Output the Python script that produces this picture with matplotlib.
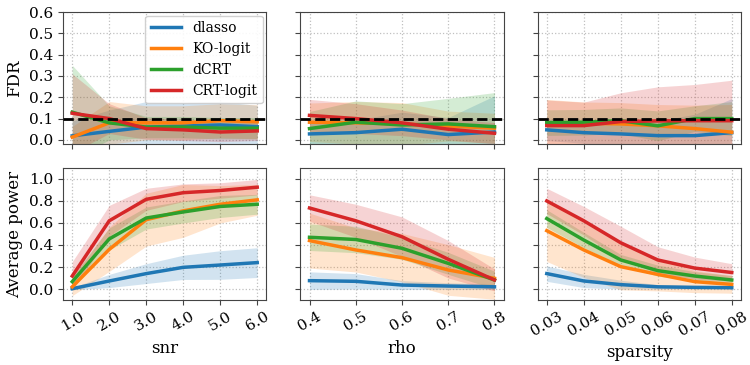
import numpy as np
import matplotlib
matplotlib.use("Agg")
import matplotlib.pyplot as plt

plt.rcParams['font.family'] = ['DejaVu Serif']

methods = ['dlasso', 'KO-logit', 'dCRT', 'CRT-logit']
colors = ['#1f77b4', '#ff7f0e', '#2ca02c', '#d62728']

snr = [1.0, 2.0, 3.0, 4.0, 5.0, 6.0]
rho = [0.4, 0.5, 0.6, 0.7, 0.8]
sparsity = [0.03, 0.04, 0.05, 0.06, 0.07, 0.08]

# FDR, rows in method order: dlasso, KO-logit, dCRT, CRT-logit
fdr_snr = [[0.019, 0.04, 0.06, 0.065, 0.07, 0.062],
           [0.013, 0.08, 0.08, 0.08, 0.09, 0.085],
           [0.13, 0.08, 0.06, 0.06, 0.055, 0.055],
           [0.125, 0.10, 0.053, 0.047, 0.037, 0.042]]
fdr_snr_std = [[0.07, 0.10, 0.12, 0.11, 0.11, 0.10],
               [0.05, 0.10, 0.08, 0.08, 0.08, 0.08],
               [0.22, 0.08, 0.05, 0.05, 0.05, 0.05],
               [0.185, 0.07, 0.05, 0.05, 0.045, 0.045]]

fdr_rho = [[0.028, 0.034, 0.05, 0.025, 0.037],
           [0.083, 0.08, 0.075, 0.065, 0.055],
           [0.053, 0.083, 0.07, 0.075, 0.062],
           [0.115, 0.10, 0.08, 0.05, 0.031]]
fdr_rho_std = [[0.06, 0.06, 0.08, 0.08, 0.17],
               [0.09, 0.10, 0.10, 0.07, 0.07],
               [0.08, 0.10, 0.10, 0.12, 0.16],
               [0.075, 0.07, 0.06, 0.05, 0.05]]

fdr_sp = [[0.047, 0.034, 0.028, 0.02, 0.02, 0.034],
          [0.08, 0.078, 0.075, 0.066, 0.053, 0.036],
          [0.081, 0.083, 0.09, 0.066, 0.10, 0.10],
          [0.067, 0.067, 0.086, 0.089, 0.09, 0.09]]
fdr_sp_std = [[0.05, 0.05, 0.07, 0.07, 0.10, 0.16],
              [0.11, 0.10, 0.10, 0.10, 0.11, 0.13],
              [0.06, 0.06, 0.06, 0.07, 0.06, 0.08],
              [0.12, 0.11, 0.135, 0.16, 0.17, 0.19]]

# Average power
pow_snr = [[0.003, 0.073, 0.14, 0.197, 0.218, 0.24],
           [0.02, 0.36, 0.63, 0.71, 0.77, 0.81],
           [0.067, 0.455, 0.645, 0.70, 0.75, 0.77],
           [0.118, 0.62, 0.815, 0.875, 0.895, 0.925]]
pow_snr_std = [[0.01, 0.06, 0.09, 0.11, 0.13, 0.135],
               [0.08, 0.20, 0.24, 0.24, 0.17, 0.14],
               [0.05, 0.10, 0.10, 0.10, 0.10, 0.09],
               [0.13, 0.14, 0.10, 0.08, 0.07, 0.07]]

pow_rho = [[0.076, 0.07, 0.036, 0.027, 0.02],
           [0.44, 0.355, 0.285, 0.173, 0.097],
           [0.47, 0.45, 0.37, 0.233, 0.082],
           [0.736, 0.62, 0.475, 0.27, 0.082]]
pow_rho_std = [[0.08, 0.07, 0.04, 0.03, 0.025],
               [0.25, 0.20, 0.22, 0.23, 0.19],
               [0.12, 0.12, 0.10, 0.10, 0.08],
               [0.12, 0.15, 0.18, 0.17, 0.10]]

pow_sp = [[0.14, 0.073, 0.04, 0.02, 0.015, 0.012],
          [0.53, 0.355, 0.203, 0.133, 0.067, 0.042],
          [0.64, 0.445, 0.264, 0.167, 0.118, 0.082],
          [0.80, 0.62, 0.42, 0.264, 0.19, 0.15]]
pow_sp_std = [[0.07, 0.06, 0.04, 0.02, 0.015, 0.01],
              [0.28, 0.25, 0.21, 0.15, 0.10, 0.08],
              [0.08, 0.07, 0.05, 0.05, 0.04, 0.04],
              [0.115, 0.13, 0.15, 0.12, 0.10, 0.08]]

cols = [(snr, 'snr', '{:.1f}', fdr_snr, fdr_snr_std, pow_snr, pow_snr_std),
        (rho, 'rho', '{:.1f}', fdr_rho, fdr_rho_std, pow_rho, pow_rho_std),
        (sparsity, 'sparsity', '{:.2f}', fdr_sp, fdr_sp_std, pow_sp, pow_sp_std)]

fig, axes = plt.subplots(2, 3, figsize=(7.5, 3.65), dpi=100, sharey='row', sharex='col')
plt.subplots_adjust(left=0.084, right=0.988, top=0.967, bottom=0.178,
                    wspace=0.166, hspace=0.18)

for j, (x, xlab, fmt, fdr, fdr_sd, pw, pw_sd) in enumerate(cols):
    x = np.array(x)
    for i, (vals, sds) in enumerate([(fdr, fdr_sd), (pw, pw_sd)]):
        ax = axes[i, j]
        for k in range(4):
            m = np.array(vals[k])
            s = np.array(sds[k])
            ax.fill_between(x, m - s, m + s, color=colors[k], alpha=0.2, lw=0)
            ax.plot(x, m, color=colors[k], lw=2.5, label=methods[k])
        ax.grid(True, linestyle=':', color='#c0c0c0', lw=0.9)
        ax.set_axisbelow(True)
        for sp in ax.spines.values():
            sp.set_color('#444444')
        ax.tick_params(labelsize=11, color='#444444')
        if i == 0:
            ax.axhline(0.1, color='black', ls='--', lw=2, zorder=5)
    axes[1, j].set_xticks(x)
    axes[1, j].set_xticklabels([fmt.format(v) for v in x], rotation=30)
    axes[1, j].set_xlabel(xlab, fontsize=12)

axes[0, 0].set_ylim(-0.02, 0.6)
axes[0, 0].set_yticks([0.0, 0.1, 0.2, 0.3, 0.4, 0.5, 0.6])
axes[1, 0].set_ylim(-0.1, 1.1)
axes[1, 0].set_yticks([0.0, 0.2, 0.4, 0.6, 0.8, 1.0])
axes[0, 0].set_ylabel('FDR', fontsize=12)
axes[1, 0].set_ylabel('Average power', fontsize=12)

axes[0, 0].legend(loc='upper right', fontsize=10, handlelength=2.2,
                  framealpha=0.9, borderaxespad=0.25)

fig.savefig('out.png')
